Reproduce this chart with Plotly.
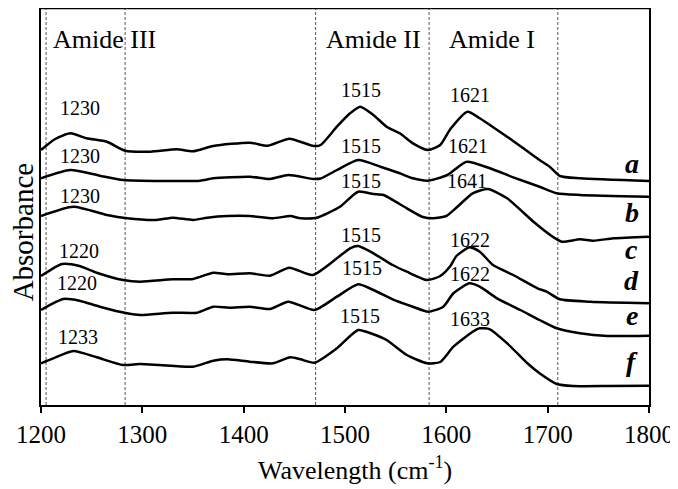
import plotly.graph_objects as go

# ---- data (arbitrary absorbance units, offset-stacked spectra) ----
wn_a = [1200, 1214, 1229, 1245, 1265, 1283, 1308, 1334, 1350, 1370, 1406, 1424, 1445, 1469, 1476, 1492, 1505, 1515, 1528, 1541, 1554, 1567, 1582, 1594, 1604, 1621, 1633, 1643, 1660, 1676, 1692, 1702, 1712, 1732, 1800]
abs_a = [255, 266, 271.7, 266.7, 263.3, 254.3, 253.3, 255.7, 253.7, 259, 262.3, 259.3, 266.3, 259, 260, 278.3, 291.7, 298.3, 290, 278.3, 271.7, 261.7, 255, 260, 276, 293.3, 286.7, 280, 268.3, 256.7, 245, 238.3, 229, 226.7, 224]

wn_b = [1200, 1229, 1258, 1281, 1320, 1357, 1370, 1406, 1426, 1444, 1469, 1476, 1492, 1513, 1535, 1554, 1567, 1582, 1601, 1620, 1643, 1666, 1692, 1709, 1732, 1800]
abs_b = [226.7, 235, 229.3, 225, 224, 224.3, 226.7, 228.3, 226, 230, 226, 226.5, 235, 245, 238.3, 231.7, 226.7, 224.3, 230, 243.3, 236.7, 227.7, 218.3, 211.7, 210, 208.3]

wn_c = [1200, 1232, 1265, 1285, 1314, 1330, 1350, 1364, 1384, 1406, 1429, 1446, 1456, 1472, 1495, 1513, 1528, 1538, 1561, 1576, 1587, 1600, 1611, 1626, 1641, 1660, 1686, 1705, 1714, 1732, 1745, 1765, 1800]
abs_c = [189, 198.3, 190, 186.7, 185, 187.3, 185, 187.3, 189, 189, 186.7, 189, 186.7, 187.3, 198.3, 213.3, 211, 210, 196.7, 188.3, 186.7, 189, 198.3, 211.7, 216, 206.7, 183.3, 168.3, 163.3, 165.7, 164.3, 166.7, 168.3]

wn_d = [1200, 1221, 1238, 1255, 1281, 1298, 1330, 1350, 1370, 1384, 1406, 1426, 1445, 1468, 1492, 1505, 1513, 1528, 1547, 1561, 1581, 1594, 1604, 1610, 1623, 1633, 1646, 1666, 1690, 1699, 1712, 1742, 1800]
abs_d = [129, 141, 139, 132.3, 125, 123.3, 125.7, 126, 132.3, 130.7, 131.7, 129.3, 137.3, 130, 146.7, 156.7, 159, 151.7, 140, 133.3, 125, 129, 139, 149, 157.7, 153.3, 140, 130, 116.7, 113.3, 105.7, 103.3, 101.7]

wn_e = [1200, 1222, 1238, 1258, 1285, 1298, 1330, 1354, 1370, 1386, 1406, 1426, 1444, 1470, 1492, 1513, 1528, 1547, 1567, 1582, 1597, 1607, 1623, 1633, 1650, 1673, 1692, 1709, 1732, 1759, 1800]
abs_e = [95, 106, 104.3, 98.3, 91.7, 90, 92.3, 92.3, 98.3, 97.3, 98.3, 96, 103.3, 95, 108.3, 120.7, 115, 105.7, 98.3, 93.3, 98.3, 111.7, 121.7, 118.3, 106.7, 95, 85, 76.7, 71.7, 69, 69.3]

wn_f = [1200, 1212, 1232, 1255, 1281, 1298, 1317, 1350, 1370, 1384, 1406, 1429, 1446, 1456, 1470, 1492, 1513, 1528, 1541, 1561, 1581, 1594, 1607, 1626, 1633, 1643, 1660, 1680, 1692, 1709, 1725, 1759, 1800]
abs_f = [41.7, 46.7, 54, 47.7, 40, 41, 40, 38.3, 44.3, 45.7, 43.3, 41.7, 47.7, 45.7, 42.3, 56.7, 75, 70.7, 65, 50, 41.7, 43, 58.3, 73.3, 76.7, 75.7, 61.7, 41.7, 31.7, 21, 19, 19, 19.3]

sample_names = ["a", "b", "c", "d", "e", "f"]
peak_labels = [
    ["1230", "1515", "1621"],
    ["1230", "1515", "1621"],
    ["1230", "1515", "1641"],
    ["1220", "1515", "1622"],
    ["1220", "1515", "1622"],
    ["1233", "1515", "1633"],
]
band_names = ["Amide III", "Amide II", "Amide I"]
band_edges = [1205, 1283, 1471, 1583, 1710]
x_ticks = [1200, 1300, 1400, 1500, 1600, 1700, 1800]

series = [(wn_a, abs_a), (wn_b, abs_b), (wn_c, abs_c), (wn_d, abs_d), (wn_e, abs_e), (wn_f, abs_f)]

FONT = "Liberation Serif, Times New Roman, serif"
YMAX = 397

fig = go.Figure()
for name, (wx, wy) in zip(sample_names, series):
    fig.add_trace(go.Scatter(x=wx, y=wy, mode="lines", name=name,
                             line=dict(color="black", width=2.5, shape="spline", smoothing=0.6),
                             showlegend=False))

# dotted band separators
for e in band_edges:
    fig.add_shape(type="line", xref="x", yref="paper", x0=e, x1=e, y0=0, y1=1,
                  line=dict(color="#555555", width=1, dash="3px,2px"), layer="below")

# top border (thin)
fig.add_shape(type="line", xref="paper", yref="paper", x0=0, x1=1, y0=0.9985, y1=0.9985,
              line=dict(color="black", width=1.2))

# band names
band_x = [1263, 1528.5, 1645]
for t, bx in zip(band_names, band_x):
    fig.add_annotation(x=bx, y=YMAX - 31, xref="x", yref="y", text=t, showarrow=False,
                       font=dict(family=FONT, size=26, color="black"),
                       xanchor="center", yanchor="middle")

# peak labels
peak_x = [[1238.5, 1516, 1623], [1238.5, 1516, 1621], [1238.5, 1516, 1620.5],
          [1237.5, 1516, 1623.4], [1235.5, 1517, 1623.4], [1236.5, 1515, 1623.4]]
peak_y = [[296.7, 315, 310], [249.5, 259.2, 259.2], [209, 224, 224],
          [154.5, 170.5, 165.5], [122.5, 137.5, 131], [68, 89.5, 86]]
for labs, pxs, pys in zip(peak_labels, peak_x, peak_y):
    for t, px, py in zip(labs, pxs, pys):
        fig.add_annotation(x=px, y=py, xref="x", yref="y", text=t, showarrow=False,
                           font=dict(family=FONT, size=20, color="black"),
                           xanchor="center", yanchor="middle")

# sample letters
letter_y = [242, 193, 156, 125, 90, 44]
for t, ly in zip(sample_names, letter_y):
    fig.add_annotation(x=1783, y=ly, xref="x", yref="y", text="<b><i>%s</i></b>" % t,
                       showarrow=False, font=dict(family=FONT, size=28, color="black"),
                       xanchor="center", yanchor="middle")

# axis titles
fig.add_annotation(x=1510, y=-0.161, xref="x", yref="paper",
                   text="Wavelength (cm<sup>-1</sup>)", showarrow=False,
                   font=dict(family=FONT, size=26, color="black"),
                   xanchor="center", yanchor="middle")
fig.add_annotation(x=-0.029, y=173, xref="paper", yref="y", text="Absorbance",
                   textangle=-90, showarrow=False,
                   font=dict(family=FONT, size=29, color="black"),
                   xanchor="center", yanchor="middle")

# the page body adds an 8px margin, so the figure is sized to fill the rest of the window
fig.update_layout(
    width=670, height=481,
    margin=dict(l=33, r=29, t=0, b=84),
    paper_bgcolor="white", plot_bgcolor="white",
    font=dict(family=FONT, size=25, color="black"),
    xaxis=dict(range=[1200, 1800], tickvals=x_ticks, ticktext=[str(v) for v in x_ticks],
               showgrid=False, zeroline=False, showline=True, linecolor="black", linewidth=2,
               ticks="outside", ticklen=6, tickwidth=2, tickcolor="black",
               tickfont=dict(family=FONT, size=25, color="black"), mirror=False),
    yaxis=dict(range=[0, YMAX], showticklabels=False, ticks="", showgrid=False,
               zeroline=False, showline=True, linecolor="black", linewidth=2, mirror=True),
)

fig.write_html("out.html")
